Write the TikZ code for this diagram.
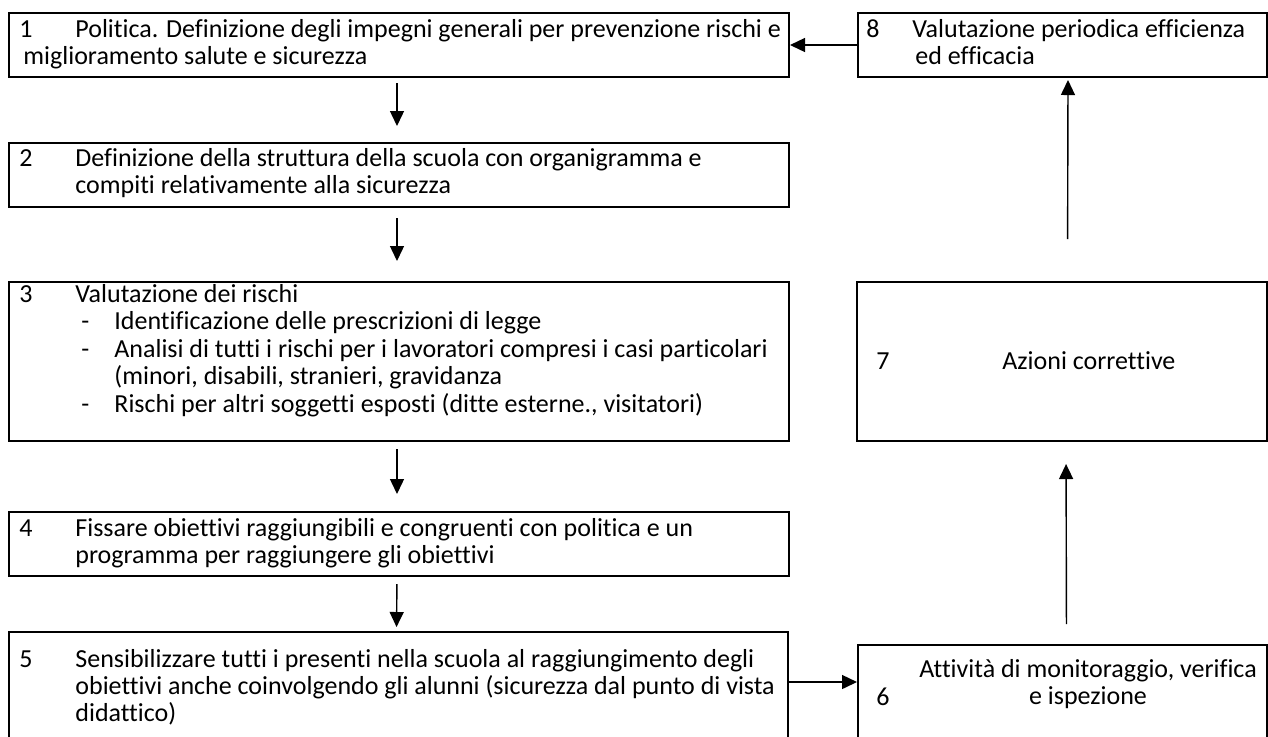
\documentclass[tikz,border=0pt]{standalone}
\usepackage{fontspec}
\setmainfont{Carlito}[RawFeature={-liga}]
\usetikzlibrary{arrows.meta}
\begin{document}
\begin{tikzpicture}[x=0.5pt,y=-0.5pt,
  box/.style={draw, line width=1pt, rectangle, inner sep=0pt},
  lbox/.style={box, minimum width=390pt},
  rbox/.style={box, minimum width=204.5pt},
  txt/.style={anchor=base west, inner sep=0pt, font=\fontsize{13}{13.5}\selectfont},
  ctxt/.style={anchor=base, inner sep=0pt, font=\fontsize{13}{13.5}\selectfont},
  arr/.style={line width=0.7pt, -{Triangle[length=7.5pt,width=7pt]}}]
\useasboundingbox (0,0) rectangle (1268,736);
% boxes
\node[lbox, minimum height=32pt] (b1) at (399,45) {};
\node[lbox, minimum height=32pt] (b2) at (399,175) {};
\node[lbox, minimum height=79.5pt] (b3) at (399,361.5) {};
\node[lbox, minimum height=32pt] (b4) at (399,544) {};
\node[box, minimum width=389.5pt, minimum height=56.5pt] (b5) at (398.5,688.5) {};
\node[rbox, minimum height=50pt] (b6) at (1062.5,695) {};
\node[box, minimum width=205pt, minimum height=79.5pt] (b7) at (1062,361.5) {};
\node[rbox, minimum height=32pt] (b8) at (1062.5,45) {};
% texts box 1
\node[txt] (n1) at (19,37) {1};
\node[txt] (t1a) at (75,37) {Politica. Definizione degli impegni generali per prevenzione rischi e};
\node[txt] (t1b) at (23,64) {miglioramento salute e sicurezza};
% box 2
\node[txt] (n2) at (19,166) {2};
\node[txt] (t2a) at (75,166) {Definizione della struttura della scuola con organigramma e};
\node[txt] (t2b) at (75,193) {compiti relativamente alla sicurezza};
% box 3
\node[txt] (n3) at (19,302) {3};
\node[txt] (t3a) at (75,302) {Valutazione dei rischi};
\node[txt] (d3a) at (81,329) {-};
\node[txt] (t3b) at (114,329) {Identificazione delle prescrizioni di legge};
\node[txt] (d3b) at (81,357) {-};
\node[txt] (t3c) at (114,357) {Analisi di tutti i rischi per i lavoratori compresi i casi particolari};
\node[txt] (t3d) at (114,384) {(minori, disabili, stranieri, gravidanza};
\node[txt] (d3c) at (81,412) {-};
\node[txt] (t3e) at (114,412) {Rischi per altri soggetti esposti (ditte esterne., visitatori)};
% box 4
\node[txt] (n4) at (19,536) {4};
\node[txt] (t4a) at (75,536) {Fissare obiettivi raggiungibili e congruenti con politica e un};
\node[txt] (t4b) at (75,563) {programma per raggiungere gli obiettivi};
% box 5
\node[txt] (n5) at (19,667) {5};
\node[txt] (t5a) at (75,667) {Sensibilizzare tutti i presenti nella scuola al raggiungimento degli};
\node[txt] (t5b) at (75,694) {obiettivi anche coinvolgendo gli alunni (sicurezza dal punto di vista};
\node[txt] (t5c) at (75,721) {didattico)};
% box 6
\node[txt] (n6) at (876,705) {6};
\node[ctxt] (t6a) at (1088,677) {Attività di monitoraggio, verifica};
\node[ctxt] (t6b) at (1088,704) {e ispezione};
% box 7
\node[txt] (n7) at (876,369) {7};
\node[txt] (t7) at (1002,369) {Azioni correttive};
% box 8
\node[txt] (n8) at (866,37) {8};
\node[txt] (t8a) at (912,37) {Valutazione periodica efficienza};
\node[txt] (t8b) at (915,64) {ed efficacia};
% connectors
\coordinate (c56) at (788,682);
\draw[arr, shorten <=2.5pt, shorten >=8pt] ([xshift=-1pt]b1.south) -- ([xshift=-1pt]b2.north);
\draw[arr, shorten <=5pt, shorten >=10pt] ([xshift=-1pt]b2.south) -- ([xshift=-1pt]b3.north);
\draw[arr, shorten <=3.5pt, shorten >=8.5pt] ([xshift=-1pt]b3.south) -- ([xshift=-1pt]b4.north);
\draw[arr, shorten <=3.5pt, shorten >=2pt] ([xshift=-1pt]b4.south) -- ([xshift=-1pt]b5.north);
\draw[arr] (b5.east |- c56) -- (b6.west |- c56);
\draw[arr, shorten <=10pt, shorten >=11pt] ([xshift=2pt]b6.north) -- ([xshift=2pt]b7.south);
\draw[arr, shorten <=21pt, shorten >=1pt] ([xshift=2.75pt]b7.north) -- ([xshift=2.75pt]b8.south);
\draw[arr] (b8.west) -- (b1.east);
\end{tikzpicture}
\end{document}
